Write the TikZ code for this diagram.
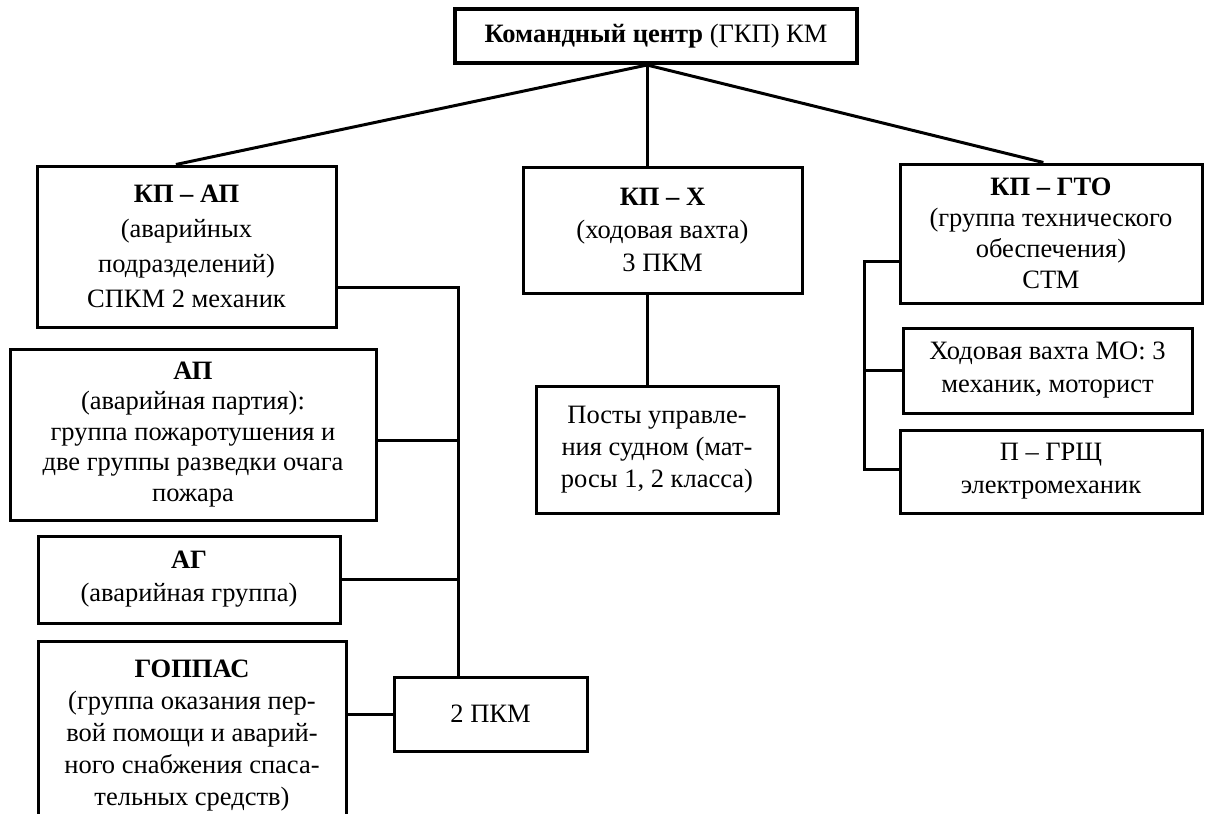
\documentclass[tikz,border=0pt]{standalone}
\usepackage{fontspec}
\setmainfont{Liberation Serif}
\usetikzlibrary{calc}
\begin{document}
\begin{tikzpicture}[x=1pt,y=-1pt,
  box/.style={draw, line width=3pt, align=center, inner sep=0pt, font=\fontsize{26.5}{33}\selectfont},
  conn/.style={line width=3pt}]
\useasboundingbox (0,0) rectangle (1205,814);
\clip (0,0) rectangle (1205,814);
% boxes
\node[box, line width=4pt, minimum width=402, minimum height=54] (top) at (656,36) {\textbf{Командный центр} (ГКП) КМ};
\node[box, minimum width=299, minimum height=161, font=\fontsize{26.5}{35}\selectfont] (kpap) at (186.5,246.5) {\textbf{КП – АП}\\(аварийных\\подразделений)\\СПКМ 2 механик};
\node[box, minimum width=279, minimum height=126] (kpx) at (662.5,230) {\textbf{КП – Х}\\(ходовая вахта)\\3 ПКМ};
\node[box, minimum width=302, minimum height=139, font=\fontsize{26.5}{31}\selectfont] (kpgto) at (1051,233.5) {\textbf{КП – ГТО}\\(группа технического\\обеспечения)\\СТМ};
\node[box, minimum width=366, minimum height=171, font=\fontsize{26.5}{30.5}\selectfont] (ap) at (193,434.5) {\textbf{АП}\\(аварийная партия):\\группа пожаротушения и\\две группы разведки очага\\пожара};
\node[box, minimum width=302, minimum height=87] (ag) at (189,579.5) {\textbf{АГ}\\(аварийная группа)};
\node[box, minimum width=308, minimum height=189, font=\fontsize{26.5}{32}\selectfont] (goppas) at (192,735.5) {\textbf{ГОППАС}\\(группа оказания пер-\\вой помощи и аварий-\\ного снабжения спаса-\\тельных средств)};
\node[box, minimum width=193, minimum height=74] (pkm2) at (490.5,714) {2 ПКМ};
\node[box, minimum width=242, minimum height=127, font=\fontsize{26.5}{32}\selectfont] (posty) at (657,449.5) {Посты управле-\\ния судном (мат-\\росы 1, 2 класса)};
\node[box, minimum width=289, minimum height=85] (hod) at (1047.5,370.5) {Ходовая вахта МО: 3\\механик, моторист};
\node[box, minimum width=302, minimum height=83] (pgrsh) at (1051,471.5) {П – ГРЩ\\электромеханик};
% connectors
\coordinate (apex) at ($(top.south west)!0.478!(top.south east)$);
\draw[conn] (apex) -- ($(kpap.north west)!0.465!(kpap.north east)$);
\draw[conn] (apex) -- (apex |- kpx.north);
\draw[conn] (apex) -- ($(kpgto.north west)!0.475!(kpgto.north east)$);
\draw[conn] (apex |- kpx.south) -- (apex |- posty.north);
\coordinate (busL) at (458,287);
\coordinate (busAP) at (458,440);
\draw[conn] (kpap.east |- busL) -- (busL) -- (busL |- pkm2.north);
\draw[conn] (ap.east |- busAP) -- (busAP);
\draw[conn] (ag.east) -- (ag.east -| busL);
\draw[conn] (goppas.east |- pkm2.west) -- (pkm2.west);
\coordinate (busR) at (864,261);
\coordinate (busRb) at (864,469);
\draw[conn] (kpgto.west |- busR) -- (busR) -- (busRb) -- (pgrsh.west |- busRb);
\draw[conn] (busR |- hod.west) -- (hod.west);
\end{tikzpicture}
\end{document}
